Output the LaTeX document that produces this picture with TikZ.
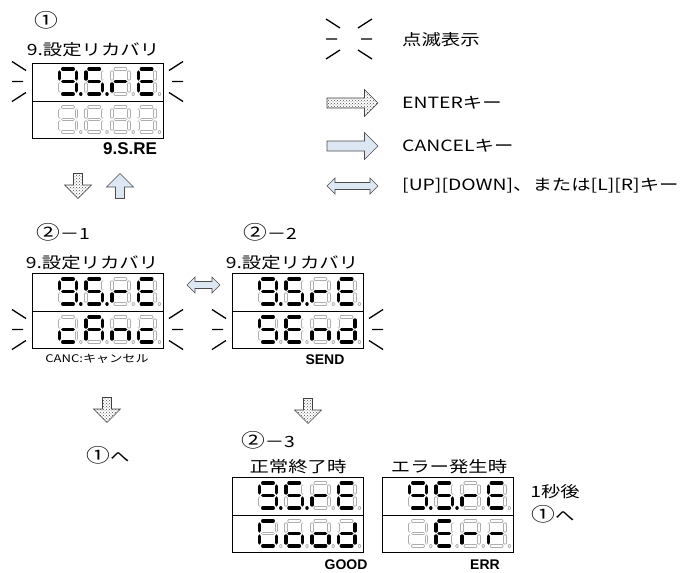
\documentclass[tikz,border=0pt]{standalone}
\usepackage{fontspec}
\setmainfont{Noto Sans CJK JP}[FakeStretch=1.25]
\newfontfamily\latinfont{Liberation Sans}
\usetikzlibrary{patterns}
\definecolor{paleblue}{RGB}{221,230,243}
\newcommand\bignum[1]{{\fontsize{19}{21}\selectfont #1}}

% seven segment paths, digit centre at origin, y grows downwards
\def\segpa{(-5.2,-12.4)--(5.2,-12.4)}
\def\segpb{(8.4,-9.4)--(8.4,-2.6)}
\def\segpc{(8.4,2.6)--(8.4,9.4)}
\def\segpd{(-5.2,12.4)--(5.2,12.4)}
\def\segpe{(-8.4,2.6)--(-8.4,9.4)}
\def\segpf{(-8.4,-9.4)--(-8.4,-2.6)}
\def\segpg{(-5.2,0)--(5.2,0)}
\def\segpp{(12.8,12.6)--(12.81,12.6)}
\def\segpz{(0,0)}

\newcommand\segdigit[3]{%
  \begin{scope}[shift={({#1},{#2})}]
    \foreach \s in {a,b,c,d,e,f,g,p}{%
      \expandafter\let\expandafter\segcur\csname segp\s\endcsname
      \draw[dimseg] \segcur;}
    \foreach \s in #3{%
      \expandafter\let\expandafter\segcur\csname segp\s\endcsname
      \draw[litseg] \segcur;}
  \end{scope}}

\newcommand\segdisplay[4]{%
  \node[dispbox,anchor=north west] (#1) at #2 {};
  \draw[dispframe] (#1.west) -- (#1.east);
  \begin{scope}[shift={(#1.north west)}]
    \foreach \dig [count=\i] in {#3}{\segdigit{36+26.2*(\i-1)}{18.5}{\dig}}
    \foreach \dig [count=\i] in {#4}{\segdigit{36+26.2*(\i-1)}{56.5}{\dig}}
  \end{scope}}

\newcommand\blinkmarks[3]{% inner left x, inner right x, centre y
  \draw[blink] ({#1-17},{#3-20})--({#1-3},{#3-11}) ({#1-17},#3)--({#1-6},#3)
    ({#1-17},{#3+20})--({#1-3},{#3+11});
  \draw[blink] ({#2+17},{#3-20})--({#2+3},{#3-11}) ({#2+17},#3)--({#2+6},#3)
    ({#2+17},{#3+20})--({#2+3},{#3+11});}

\newcommand\blockarrow[6]{% style, centre, angle, length, half head, half shaft
  \draw[#1,shift={#2},rotate=#3] ({-#4/2},{-#6})--({#4/2-#5},{-#6})--({#4/2-#5},{-#5})
    --({#4/2},0)--({#4/2-#5},{#5})--({#4/2-#5},{#6})--({-#4/2},{#6})--cycle;}

\newcommand\bothwayarrow[5]{% style, centre, length, half head, half shaft
  \draw[#1,shift={#2}] ({-#3/2},0)--({-#3/2+#4},{-#4})--({-#3/2+#4},{-#5})--({#3/2-#4},{-#5})
    --({#3/2-#4},{-#4})--({#3/2},0)--({#3/2-#4},{#4})--({#3/2-#4},{#5})
    --({-#3/2+#4},{#5})--({-#3/2+#4},{#4})--cycle;}

\begin{document}
\begin{tikzpicture}[x=1pt,y=-1pt,
txt/.style={font=\fontsize{15.5}{18}\selectfont,inner sep=0pt},
smalltxt/.style={font=\fontsize{10.5}{12}\selectfont,inner sep=0pt},
seglbl/.style={font=\latinfont\bfseries\fontsize{14}{16}\selectfont,inner sep=0pt},
dispbox/.style={draw,line width=1pt,minimum width=131pt,minimum height=75pt,inner sep=0pt},
dispframe/.style={line width=1pt},
dimseg/.style={draw=black!32,line width=.8pt,double=white,double distance=1.8pt,line cap=round},
litseg/.style={draw=black,line width=3.4pt,line cap=round},
blink/.style={line width=1.3pt},
enterarr/.style={draw=black!75,line width=.6pt,pattern=crosshatch dots,pattern color=black!70},
cancelarr/.style={draw=black!70,line width=.6pt,fill=paleblue}]
\useasboundingbox (0,0) rectangle (686,573);

% legend
\blinkmarks{343}{355}{39}
\node[txt,anchor=west] (lgblink) at (402,40) {点滅表示};
\blockarrow{enterarr}{(352.5,103)}{0}{51}{13.5}{5}
\node[txt,anchor=west] (lgenter) at (402,103) {ENTERキー};
\blockarrow{cancelarr}{(352.5,146)}{0}{51}{13.5}{5}
\node[txt,anchor=west] (lgcancel) at (402,146) {CANCELキー};
\bothwayarrow{cancelarr}{(352.5,186)}{51}{8}{3.5}
\node[txt,anchor=west] (lgkeys) at (402,186) {[UP][DOWN]、または[L][R]キー};

% step 1
\node[txt] (st1) at (46,20) {\bignum{①}};
\node[txt] (ttl1) at (93,50) {9.設定リカバリ};
\segdisplay{d1}{(32,63)}{{a,b,c,d,f,g,p},{a,c,d,f,g,p},{e,g},{a,d,e,f,g}}{{z},{z},{z},{z}}
\blinkmarks{29}{166}{81.5}
\node[seglbl,font=\latinfont\bfseries\fontsize{17}{19}\selectfont] (lbl1) at (130,149) {9.S.RE};
\blockarrow{enterarr}{(78,186)}{-90}{25}{13.5}{4.5}
\blockarrow{cancelarr}{(120,186)}{90}{25}{13.5}{4.5}

% step 2-1 and 2-2
\node[txt] (st21) at (63,232) {\bignum{②}－1};
\node[txt] (ttl21) at (92,263) {9.設定リカバリ};
\segdisplay{d21}{(32,273)}{{a,b,c,d,f,g,p},{a,c,d,f,g,p},{e,g},{a,d,e,f,g}}{{d,e,g},{a,b,c,e,f,g},{c,e,g},{d,e,g}}
\blinkmarks{29}{166}{329.5}
\node[smalltxt] (lbl21) at (97,359) {CANC:キャンセル};
\bothwayarrow{cancelarr}{(203.5,285)}{33}{8}{3.5}
\node[txt] (st22) at (270,232) {\bignum{②}－2};
\node[txt] (ttl22) at (292,263) {9.設定リカバリ};
\segdisplay{d22}{(232,273)}{{a,b,c,d,f,g,p},{a,c,d,f,g,p},{e,g},{a,d,e,f,g}}{{a,c,d,f,g},{a,d,e,f,g},{c,e,g},{b,c,d,e,g}}
\blinkmarks{229}{366}{329.5}
\node[seglbl] (lbl22) at (325,360) {SEND};

% back to 1
\blockarrow{enterarr}{(107,410)}{-90}{25}{13.5}{4.5}
\node[txt] (back1) at (108,455) {\bignum{①}へ};

% step 2-3
\blockarrow{enterarr}{(308,411)}{-90}{25}{13.5}{4.5}
\node[txt] (st23) at (268,440) {\bignum{②}－3};
\node[txt] (ttlok) at (298,467) {正常終了時};
\node[txt] (ttlerr) at (449,467) {エラー発生時};
\segdisplay{dok}{(232,477)}{{a,b,c,d,f,g,p},{a,c,d,f,g,p},{e,g},{a,d,e,f,g}}{{a,c,d,e,f},{c,d,e,g},{c,d,e,g},{b,c,d,e,g}}
\segdisplay{derr}{(382,477)}{{a,b,c,d,f,g,p},{a,c,d,f,g,p},{e,g},{a,d,e,f,g}}{{z},{a,d,e,f,g},{e,g},{e,g}}
\node[seglbl] (lblok) at (346,565) {GOOD};
\node[seglbl] (lblerr) at (485,565) {ERR};
\node[txt] (wait) at (555,492) {1秒後};
\node[txt] (back2) at (553,514) {\bignum{①}へ};
\end{tikzpicture}
\end{document}
